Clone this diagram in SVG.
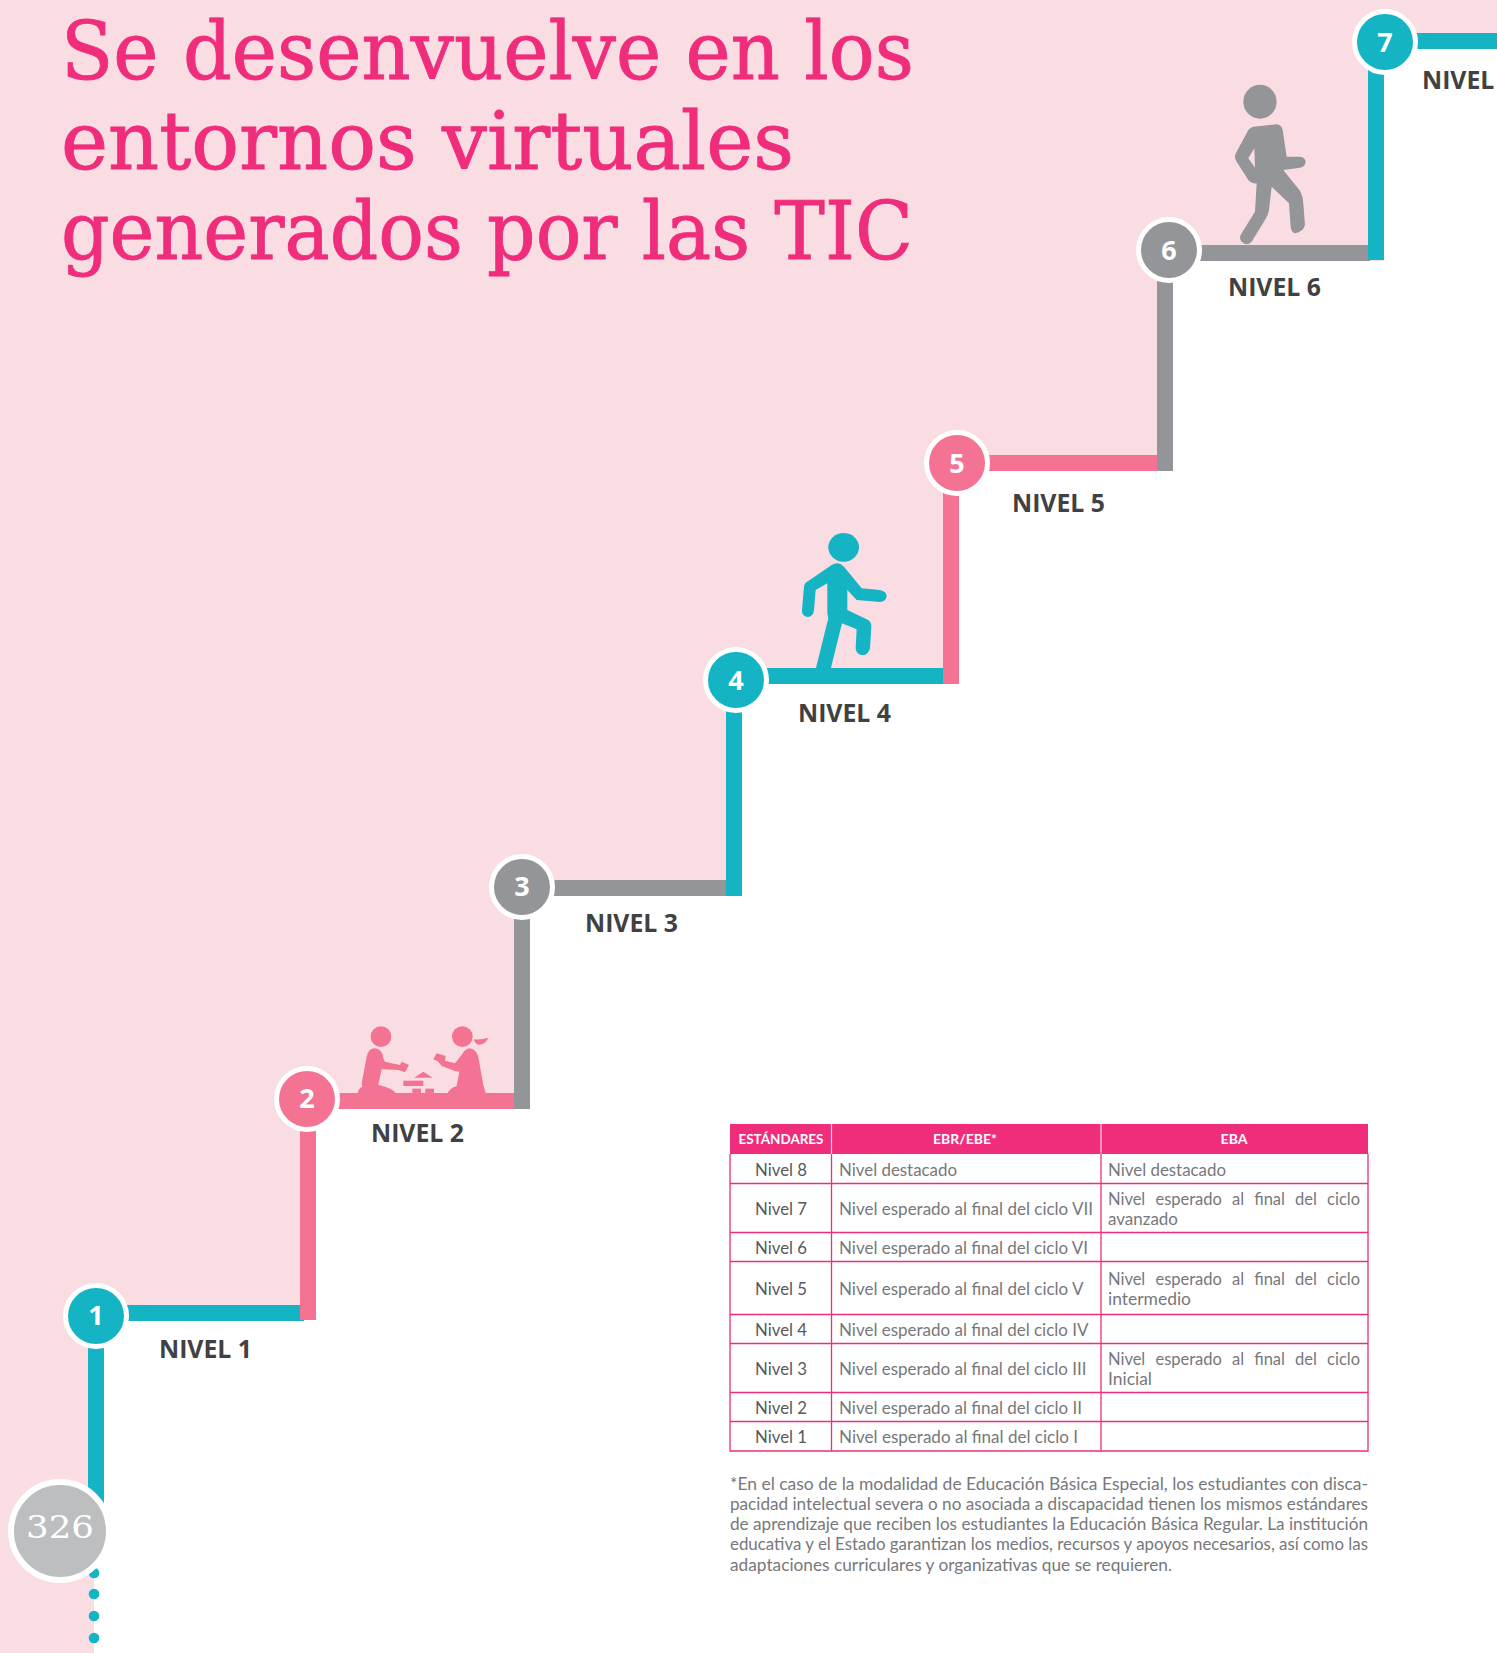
<svg xmlns="http://www.w3.org/2000/svg" width="1497" height="1653" viewBox="0 0 1497 1653">
<style>
.t{font-family:"DejaVu Serif",serif;font-size:80px;fill:#EF2D7B;stroke:#EF2D7B;stroke-width:.9}
.lb{font-family:"Open Sans",sans-serif;font-weight:700;font-size:24.8px;fill:#414042}
.num{font-family:"Open Sans",sans-serif;font-weight:700;font-size:27px;fill:#fff;text-anchor:middle}
.teal{fill:#14B4C4}.pink{fill:#F47393}.grey{fill:#939598}
.c{stroke:#fff;stroke-width:5}
.g{stroke:#EF2D7B;stroke-width:1.3;fill:none}
.h{font-family:"Lato","Open Sans",sans-serif;font-weight:700;font-size:14px;fill:#fff;text-anchor:middle}
.n{font-family:"Lato","Open Sans",sans-serif;font-size:16.5px;fill:#58595B}
.d{font-family:"Lato","Open Sans",sans-serif;font-size:16.5px;fill:#77787B}
.f{font-family:"Lato","Open Sans",sans-serif;font-size:16.5px;fill:#77787B}
</style>
<rect width="1497" height="1653" fill="#fff"/>
<path id="background" fill="#FADDE3" d="M0 0H1497V49H1384V261H1173V471H959V684H742V896H530V1109H316V1320H104V1500H94V1653H0Z"/>
<g id="title">
<text class="t" x="61" y="79" textLength="853" lengthAdjust="spacingAndGlyphs">Se desenvuelve en los</text>
<text class="t" x="61" y="169" textLength="733" lengthAdjust="spacingAndGlyphs">entornos virtuales</text>
<text class="t" x="61" y="259" textLength="852" lengthAdjust="spacingAndGlyphs">generados por las TIC</text>
</g>
<g id="connectors">
<rect class="teal" x="88" y="1340" width="16" height="170"/>
<rect class="teal" x="100" y="1305" width="204" height="16"/>
<rect class="pink" x="300" y="1110" width="16" height="210"/>
<rect class="pink" x="310" y="1093" width="206" height="16"/>
<rect class="grey" x="514" y="900" width="16" height="209"/>
<rect class="grey" x="530" y="880" width="198" height="16"/>
<rect class="teal" x="726" y="700" width="16" height="196"/>
<rect class="teal" x="742" y="668" width="203" height="16"/>
<rect class="pink" x="943" y="480" width="16" height="204"/>
<rect class="pink" x="965" y="455" width="194" height="16"/>
<rect class="grey" x="1157" y="270" width="16" height="201"/>
<rect class="grey" x="1180" y="245" width="190" height="16"/>
<rect class="teal" x="1368" y="60" width="16" height="200"/>
<rect class="teal" x="1400" y="33" width="97" height="16"/>
<circle class="teal" cx="94" cy="1573" r="5.3"/>
<circle class="teal" cx="94" cy="1594" r="5.3"/>
<circle class="teal" cx="94" cy="1616" r="5.3"/>
<circle class="teal" cx="94" cy="1638" r="5.3"/>
</g>
<g id="figure-kids" class="pink" transform="translate(270 1010) scale(.3333)">
<circle cx="333" cy="80" r="31"/><circle cx="577" cy="80" r="31"/>
<path d="M612 88Q635 90 655 83Q645 105 625 104Q612 100 612 88Z"/>
<path d="M290 140Q295 115 315 115Q338 118 340 145L345 155L390 165L395 155L417 165L405 187L385 180L335 178L325 225Q365 232 380 252H262Q265 235 277 230L275 220Z"/>
<path d="M490 148L500 130L527 138L525 152L555 160L575 135Q585 115 600 115Q618 118 625 140L640 225L648 252H533Q535 237 560 228L568 185L555 183L515 168L505 155Z"/>
<path d="M432 203L460 185L488 203Z"/><rect x="400" y="212" width="60" height="16"/><rect x="427" y="236" width="26" height="16"/><rect x="466" y="236" width="26" height="16"/>
</g>
<g id="figure-teal" class="teal" transform="translate(700 510) scale(.3333)">
<ellipse cx="431" cy="112" rx="46" ry="43"/>
<path d="M395 165Q415 152 432 170L485 235L540 240Q560 245 560 258Q558 275 540 276L470 270L442 240V300L505 330Q515 338 514 350L510 415Q505 435 488 436Q468 433 467 415L470 358L426 340L392 478H347L385 325L382 310V220L347 240L342 300Q340 320 323 321Q305 318 306 300L312 230Q314 218 325 213Z"/>
</g>
<g id="figure-grey" class="grey" transform="translate(1120 0) scale(.3333)">
<ellipse cx="420" cy="305" rx="50" ry="51"/>
<path fill-rule="evenodd" d="M400 380L470 373Q485 375 488 390L500 470H540Q557 472 557 487Q555 502 540 503L490 510L540 572Q550 590 550 610L555 675Q550 695 525 700Q513 695 512 680L507 610L455 560L447 630Q445 645 435 660L395 725Q380 740 365 725Q355 712 365 700L405 635L410 550Q395 552 385 540L350 485Q340 470 350 455L385 390Q390 382 400 380ZM403 445L385 475L405 503Z"/>
</g>
<g id="node-1"><circle class="teal c" cx="96" cy="1316" r="30.5"/><text class="num" x="96" y="1325">1</text><text class="lb" x="159" y="1358">NIVEL 1</text></g>
<g id="node-2"><circle class="pink c" cx="307" cy="1099" r="30.5"/><text class="num" x="307" y="1108">2</text><text class="lb" x="371" y="1142">NIVEL 2</text></g>
<g id="node-3"><circle class="grey c" cx="522" cy="887" r="30.5"/><text class="num" x="522" y="896">3</text><text class="lb" x="585" y="932">NIVEL 3</text></g>
<g id="node-4"><circle class="teal c" cx="736" cy="680" r="30.5"/><text class="num" x="736" y="690">4</text><text class="lb" x="798" y="722">NIVEL 4</text></g>
<g id="node-5"><circle class="pink c" cx="957" cy="463" r="30.5"/><text class="num" x="957" y="473">5</text><text class="lb" x="1012" y="512">NIVEL 5</text></g>
<g id="node-6"><circle class="grey c" cx="1169" cy="250" r="30.5"/><text class="num" x="1169" y="260">6</text><text class="lb" x="1228" y="296">NIVEL 6</text></g>
<g id="node-7"><circle class="teal c" cx="1385" cy="42" r="30.5"/><text class="num" x="1385" y="52">7</text><text class="lb" x="1422" y="89">NIVEL</text></g>
<g id="page-number"><circle fill="#BCBEC0" stroke="#fff" stroke-width="6" cx="60" cy="1531" r="49"/><text x="60" y="1538" font-family="DejaVu Serif,serif" font-size="32" fill="#fff" text-anchor="middle" textLength="68" lengthAdjust="spacingAndGlyphs">326</text></g>
<g id="table">
<rect x="730" y="1124" width="638" height="30" fill="#EF2D7B"/>
<path d="M831.5 1124V1154M1101 1124V1154" stroke="#FBD3E2" stroke-width="1.2"/>
<path class="g" d="M730 1154V1451H1368V1154M730 1183.5H1368M730 1232.5H1368M730 1261.500H1368M730 1314.500H1368M730 1343.500H1368M730 1392.500H1368M730 1421.500H1368M831.500 1154V1451M1101 1154V1451"/>
<text class="h" x="781" y="1144" textLength="85" lengthAdjust="spacingAndGlyphs">ESTÁNDARES</text>
<text class="h" x="965" y="1144">EBR/EBE*</text>
<text class="h" x="1234" y="1144">EBA</text>
<text class="n" x="755" y="1176" textLength="52" lengthAdjust="spacingAndGlyphs">Nivel 8</text>
<text class="n" x="755" y="1215" textLength="52" lengthAdjust="spacingAndGlyphs">Nivel 7</text>
<text class="n" x="755" y="1254" textLength="52" lengthAdjust="spacingAndGlyphs">Nivel 6</text>
<text class="n" x="755" y="1295" textLength="52" lengthAdjust="spacingAndGlyphs">Nivel 5</text>
<text class="n" x="755" y="1336" textLength="52" lengthAdjust="spacingAndGlyphs">Nivel 4</text>
<text class="n" x="755" y="1375" textLength="52" lengthAdjust="spacingAndGlyphs">Nivel 3</text>
<text class="n" x="755" y="1414" textLength="52" lengthAdjust="spacingAndGlyphs">Nivel 2</text>
<text class="n" x="755" y="1443" textLength="52" lengthAdjust="spacingAndGlyphs">Nivel 1</text>
<text class="d" x="839" y="1176" textLength="118" lengthAdjust="spacingAndGlyphs">Nivel destacado</text>
<text class="d" x="839" y="1215" textLength="254" lengthAdjust="spacingAndGlyphs">Nivel esperado al final del ciclo VII</text>
<text class="d" x="839" y="1254" textLength="249" lengthAdjust="spacingAndGlyphs">Nivel esperado al final del ciclo VI</text>
<text class="d" x="839" y="1295" textLength="244.5" lengthAdjust="spacingAndGlyphs">Nivel esperado al final del ciclo V</text>
<text class="d" x="839" y="1336" textLength="249.5" lengthAdjust="spacingAndGlyphs">Nivel esperado al final del ciclo IV</text>
<text class="d" x="839" y="1375" textLength="247.5" lengthAdjust="spacingAndGlyphs">Nivel esperado al final del ciclo III</text>
<text class="d" x="839" y="1414" textLength="243" lengthAdjust="spacingAndGlyphs">Nivel esperado al final del ciclo II</text>
<text class="d" x="839" y="1443" textLength="239" lengthAdjust="spacingAndGlyphs">Nivel esperado al final del ciclo I</text>
<text class="d" x="1108" y="1176" textLength="118" lengthAdjust="spacingAndGlyphs">Nivel destacado</text>
<text class="d" x="1108" y="1205" textLength="252" word-spacing="6">Nivel esperado al final del ciclo</text>
<text class="d" x="1108" y="1225" textLength="70" lengthAdjust="spacingAndGlyphs">avanzado</text>
<text class="d" x="1108" y="1285" textLength="252" word-spacing="6">Nivel esperado al final del ciclo</text>
<text class="d" x="1108" y="1305" textLength="83" lengthAdjust="spacingAndGlyphs">intermedio</text>
<text class="d" x="1108" y="1365" textLength="252" word-spacing="6">Nivel esperado al final del ciclo</text>
<text class="d" x="1108" y="1385" textLength="44" lengthAdjust="spacingAndGlyphs">Inicial</text>
</g>
<g id="footnote">
<text class="f" x="730" y="1490" textLength="638" lengthAdjust="spacingAndGlyphs">*En el caso de la modalidad de Educación Básica Especial, los estudiantes con disca-</text>
<text class="f" x="730" y="1510" textLength="638" lengthAdjust="spacingAndGlyphs">pacidad intelectual severa o no asociada a discapacidad tienen los mismos estándares</text>
<text class="f" x="730" y="1530" textLength="638" lengthAdjust="spacingAndGlyphs">de aprendizaje que reciben los estudiantes la Educación Básica Regular. La institución</text>
<text class="f" x="730" y="1550" textLength="638" lengthAdjust="spacingAndGlyphs">educativa y el Estado garantizan los medios, recursos y apoyos necesarios, así como las</text>
<text class="f" x="730" y="1571" textLength="442" lengthAdjust="spacingAndGlyphs">adaptaciones curriculares y organizativas que se requieren.</text>
</g>
</svg>
